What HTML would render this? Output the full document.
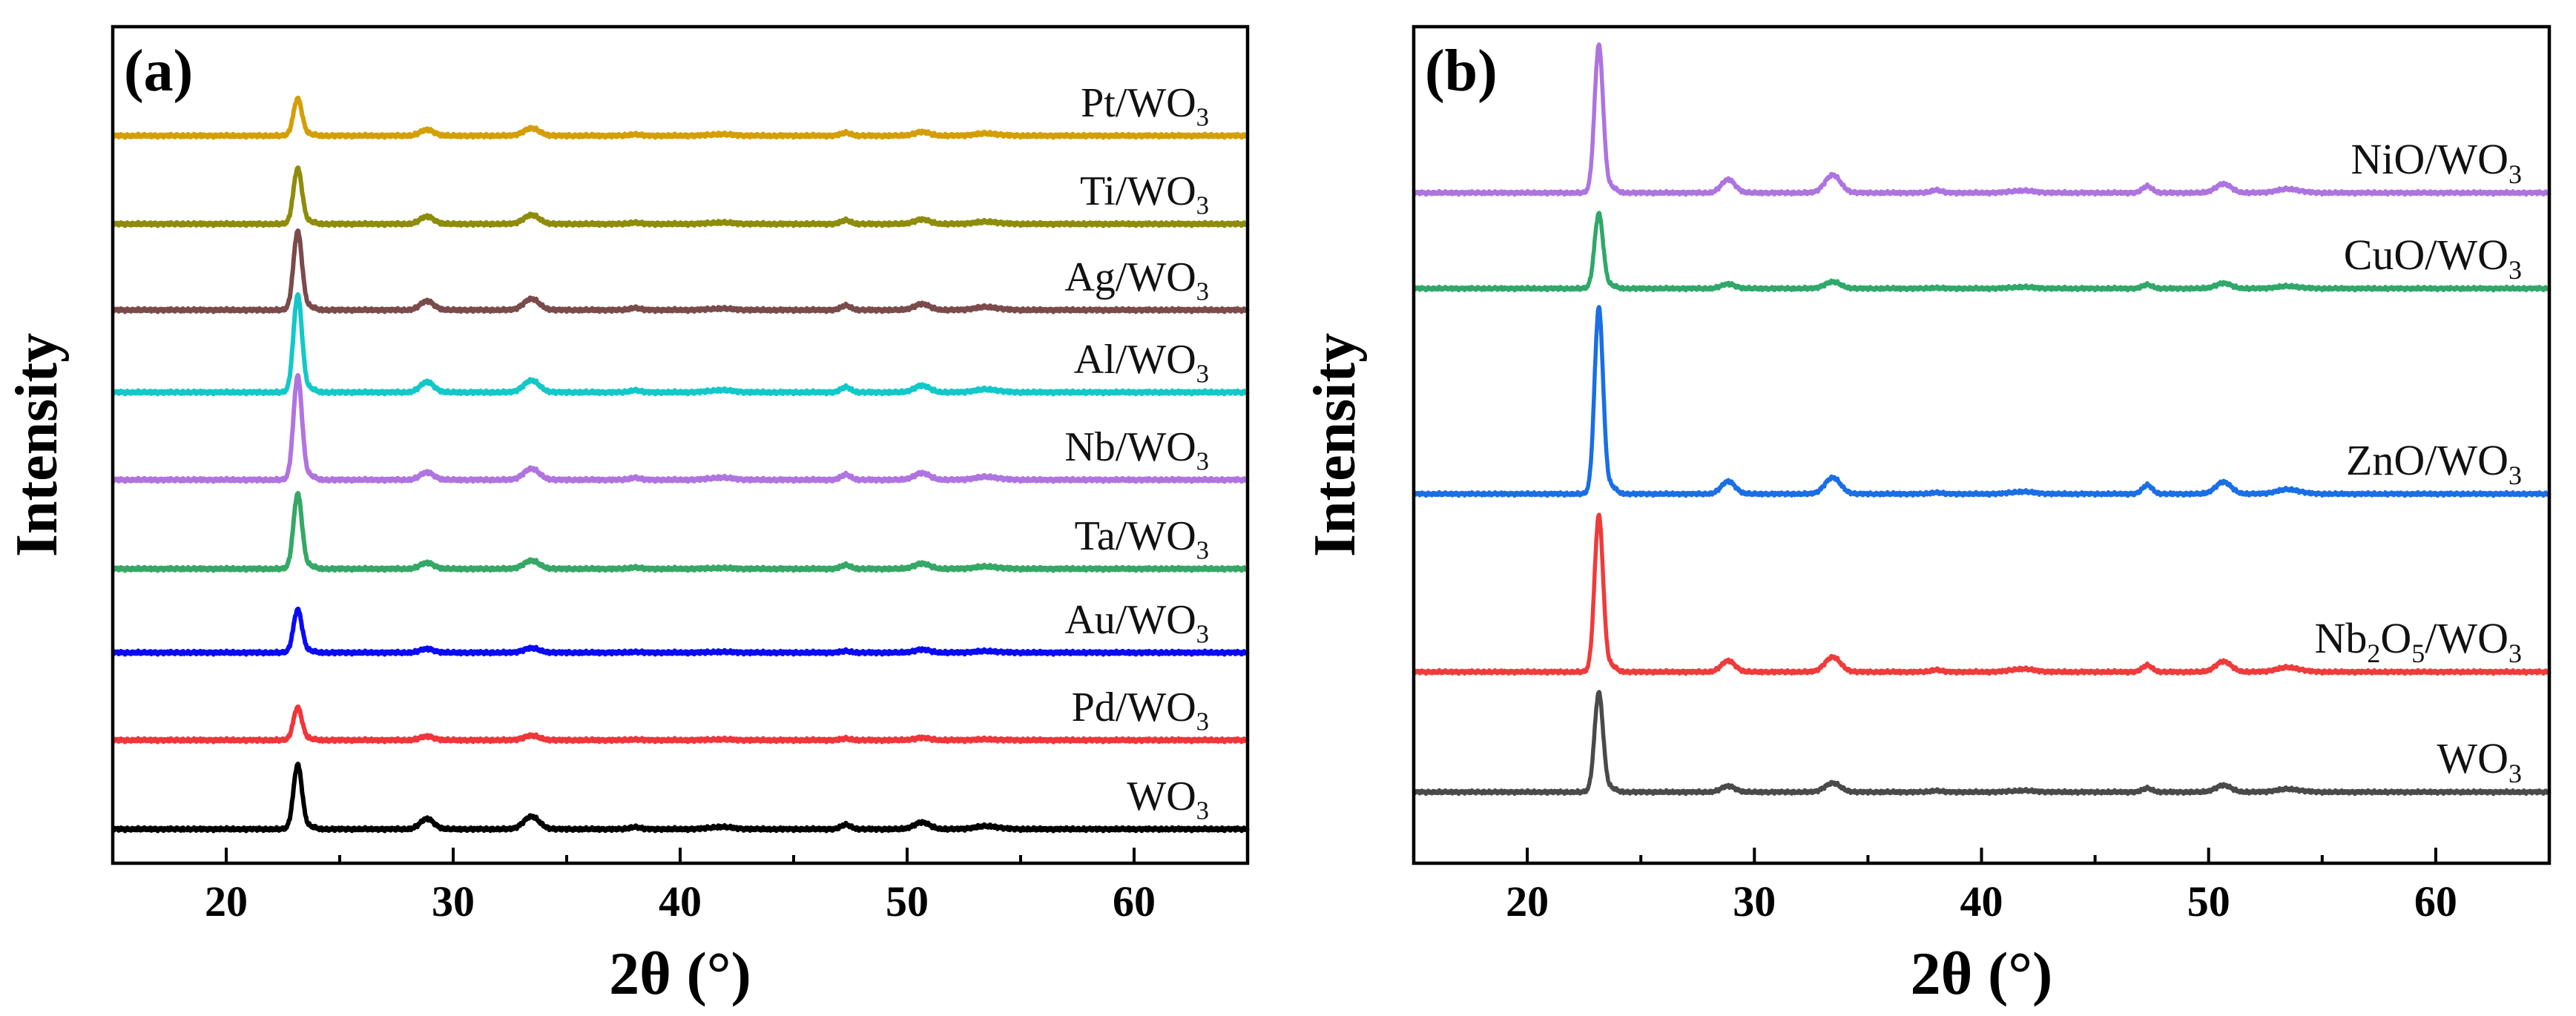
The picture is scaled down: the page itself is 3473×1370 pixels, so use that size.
<!DOCTYPE html>
<html><head><meta charset="utf-8"><style>
html,body{margin:0;padding:0;background:#fff}
svg{display:block}
text{font-family:"Liberation Serif","DejaVu Serif",serif}
</style></head><body>
<svg id="fig" width="3473" height="1370" viewBox="0 0 3473 1370" xmlns="http://www.w3.org/2000/svg">
<g id="pa"></g>
<g id="pb"></g>
</svg>
<script>
// Shared data
const xTicksMajor = [20, 30, 40, 50, 60];
const xTicksMinor = [25, 35, 45, 55];
const peakPos = [23.15, 28.85, 33.45, 38.0, 41.8, 47.3, 50.65, 53.5];

// Panel (a)
const namesA = ["WO3", "Pd/WO3", "Au/WO3", "Ta/WO3", "Nb/WO3", "Al/WO3", "Ag/WO3", "Ti/WO3", "Pt/WO3"];
const colorsA = ["#000000", "#f0353b", "#0a0af5", "#35a865", "#b074e0", "#12c8c8", "#7b4b4b", "#8e8c0b", "#d49f06"];
const offsetsA = [46, 166, 284, 397, 517, 635, 746, 862, 981];
const mainA = [87, 44, 58, 101, 140, 131, 106, 75, 50];
const p29A = [14, 5, 5, 8, 10, 14, 12, 10, 8];
const p33A = [17, 6, 6, 11, 15, 16, 15, 12, 10];
const p38A = [3, 1, 1, 2, 3, 3, 3, 2, 2];
const p42A = [3, 1, 1, 1, 3, 3, 2, 2, 2];
const p47A = [6, 2, 2, 5, 7, 7, 6, 5, 4];
const p51A = [9, 3, 4, 7, 9, 9, 8, 6, 5];
const p53A = [4, 1, 2, 3, 4, 4, 4, 3, 3];

// Panel (b)
const namesB = ["WO3", "Nb2O5/WO3", "ZnO/WO3", "CuO/WO3", "NiO/WO3"];
const colorsB = ["#4a4a4a", "#ef3b3b", "#1a6ee6", "#2fa86a", "#ad74e0"];
const offsetsB = [96, 258, 498, 775, 904];
const mainB = [134, 211, 251, 101, 199];
const p29B = [8, 15, 17, 6, 18];
const p33B = [12, 20, 22, 9, 24];
const p38B = [2, 3, 2, 1, 4];
const p42B = [2, 4, 3, 2, 3];
const p47B = [5, 9, 12, 5, 9];
const p51B = [9, 14, 16, 7, 12];
const p53B = [4, 6, 6, 3, 5];

const NS = "http://www.w3.org/2000/svg";
function mk(tag, attrs, parent) {
  const e = document.createElementNS(NS, tag);
  for (const k in attrs) e.setAttribute(k, attrs[k]);
  parent.appendChild(e);
  return e;
}
const TOP = 36, BOTTOM = 1164;
function makeY() { return v => BOTTOM - v; }
function profile(x, i, main, p29, p33, p38, p42, p47, p51, p53) {
  const hs = [main[i], p29[i], p33[i], p38[i], p42[i], p47[i], p51[i], p53[i]];
  const ws = [0.22, 0.35, 0.4, 0.25, 0.6, 0.25, 0.4, 0.6];
  let v = 0;
  for (let k = 0; k < peakPos.length; k++) {
    const d = (x - peakPos[k]) / ws[k];
    v += hs[k] * Math.exp(-d * d * 0.69);
  }
  const d2 = (x - 23.7) / 0.25;
  v += main[i] * 0.04 * Math.exp(-d2 * d2 * 0.69);
  v += 1.6 * Math.sin(x * 37.1) * Math.cos(x * 11.3) + 1.0 * Math.sin(x * 91.7);
  return v;
}
function subLabel(g, name, x, y, size) {
  const t = mk("text", {x: x, y: y, "text-anchor": "end", "font-size": size, fill: "#111"}, g);
  const parts = name.match(/[A-Za-z\/]+|\d/g);
  parts.forEach(p => {
    const s = mk("tspan", {}, t);
    if (/^\d$/.test(p)) { s.setAttribute("font-size", size * 0.62); s.setAttribute("dy", size * 0.22); }
    else { s.setAttribute("dy", t.childNodes.length > 1 && /^\d$/.test(t.childNodes[t.childNodes.length - 2].textContent) ? -size * 0.22 : 0); }
    s.textContent = p;
  });
  return t;
}
function drawPanel(g, left, right, letter, names, colors, offsets, main, p29, p33, p38, p42, p47, p51, p53, labelX, sw, labelSize, ylabX) {
  const xS = v => left + (v - 15) / 50 * (right - left);
  const yS = makeY();
  for (let i = 0; i < names.length; i++) {
    let d = "";
    for (let x = 15; x <= 65.0001; x += 0.02) {
      const yy = yS(offsets[i] + profile(x, i, main, p29, p33, p38, p42, p47, p51, p53));
      d += (d ? "L" : "M") + xS(x).toFixed(1) + "," + yy.toFixed(1);
    }
    const p = mk("path", {d: d, fill: "none", stroke: colors[i], "stroke-width": sw, "stroke-linejoin": "round"}, g);
    
    
    const lb = subLabel(g, names[i], labelX, yS(offsets[i]) - 26, labelSize);
    
    
  }
  const fr = mk("rect", {x: left, y: TOP, width: right - left, height: BOTTOM - TOP, fill: "none", stroke: "#000", "stroke-width": 4.5}, g);
  
  
  xTicksMajor.forEach(v => {
    const t = mk("line", {x1: xS(v), x2: xS(v), y1: BOTTOM, y2: BOTTOM - 21, stroke: "#000", "stroke-width": 4}, g);
    
    
    const tl = mk("text", {x: xS(v), y: 1235, "text-anchor": "middle", "font-size": 58, "font-weight": "bold", fill: "#000"}, g);
    tl.textContent = v;
    
    
  });
  xTicksMinor.forEach(v => {
    const t = mk("line", {x1: xS(v), x2: xS(v), y1: BOTTOM, y2: BOTTOM - 11, stroke: "#000", "stroke-width": 4}, g);
    
    
  });
  const xt = mk("text", {x: (left + right) / 2, y: 1340, "text-anchor": "middle", "font-size": 82, "font-weight": "bold", fill: "#000"}, g);
  xt.textContent = "2θ (°)";
  
  
  const yt = mk("text", {x: 0, y: 0, "text-anchor": "middle", "font-size": 80, "font-weight": "bold", fill: "#000", transform: "translate(" + ylabX + ",600) rotate(-90)"}, g);
  yt.textContent = "Intensity";
  
  
  const pl = mk("text", {x: left + 15, y: 122, "font-size": 80, "font-weight": "bold", fill: "#000"}, g);
  pl.textContent = letter;
  
  
}
drawPanel(document.getElementById("pa"), 152, 1682, "(a)", namesA, colorsA, offsetsA, mainA, p29A, p33A, p38A, p42A, p47A, p51A, p53A, 1630, 6, 56, 76);
drawPanel(document.getElementById("pb"), 1906, 3437, "(b)", namesB, colorsB, offsetsB, mainB, p29B, p33B, p38B, p42B, p47B, p51B, p53B, 3400, 5.5, 58, 1826);
</script>
</body></html>
